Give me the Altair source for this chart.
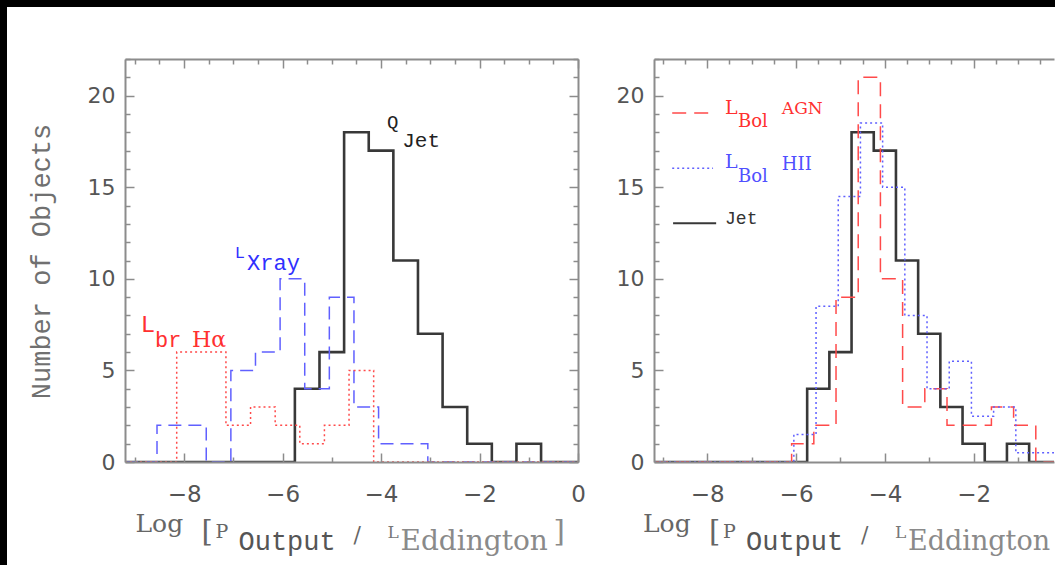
import altair as alt
import pandas as pd

# ---------------- data ----------------
BIN_WIDTH = 0.5

# left panel: jet power, X-ray and broad H-alpha outputs (bin left edges, counts)
jet_starts = [-5.75, -5.25, -4.75, -4.25, -3.75, -3.25, -2.75, -2.25, -1.75, -1.25]
jet_counts = [4, 6, 18, 17, 11, 7, 3, 1, 0, 1]

xray_starts = [-8.55, -8.05, -7.55, -7.05, -6.55, -6.05, -5.55, -5.05, -4.55, -4.05, -3.55]
xray_counts = [2, 2, 0, 5, 6, 10, 4, 9, 3, 1, 1]

halpha_starts = [-8.15, -7.65, -7.15, -6.65, -6.15, -5.65, -5.15, -4.65]
halpha_counts = [6, 6, 2, 3, 2, 1, 2, 5]

# right panel: bolometric AGN, bolometric HII (and the same jet histogram)
agn_starts = [-6.1, -5.6, -5.1, -4.6, -4.1, -3.6, -3.1, -2.6, -2.1, -1.6, -1.1]
agn_counts = [1, 2, 9, 21, 10, 3, 4, 2, 2, 3, 2]

hii_starts = [-6.05, -5.55, -5.05, -4.55, -4.05, -3.55, -3.05, -2.55, -2.05, -1.55, -1.05, -0.55]
hii_counts = [1.5, 8.5, 14.5, 18.5, 15, 8, 4, 5.5, 2.5, 3, 0.5, 0.5]

X_TICKS_LEFT = [-9.0, -8.5, -8.0, -7.5, -7.0, -6.5, -6.0, -5.5, -5.0, -4.5,
                -4.0, -3.5, -3.0, -2.5, -2.0, -1.5, -1.0, -0.5, 0.0]
X_TICKS_RIGHT = [-9.0, -8.5, -8.0, -7.5, -7.0, -6.5, -6.0, -5.5, -5.0, -4.5,
                 -4.0, -3.5, -3.0, -2.5, -2.0, -1.5, -1.0, -0.5]
Y_TICKS = [0, 1, 2, 3, 4, 5, 6, 7, 8, 9, 10, 11, 12, 13, 14, 15, 16, 17, 18, 19, 20, 21, 22]

X_LO, X_HI = -9.2, 0.0
X_HI_RIGHT = -0.19          # right panel is cut by the picture edge
Y_DOMAIN = [0, 22]

# ---------------- styling ----------------
SERIF = "DejaVu Serif"
MONO = "Liberation Mono"
SANS = "DejaVu Sans"
AX = "#8c8c8c"
LAB = "#555555"
RED = "#ff4a4a"
BLUE = "#6060ff"
JET = "#383838"

LEFT_W, RIGHT_W, H = 453, 400, 403
RIGHT_NOMINAL_W = 410

ONE = pd.DataFrame({"k": [0]})


def step_frame(starts, counts, hi):
    xs = [X_LO] + list(starts)
    ys = [0] + list(counts)
    end = starts[-1] + BIN_WIDTH
    if end < hi:
        xs += [end, hi]
        ys += [0, 0]
    else:
        xs.append(hi)
        ys.append(counts[-1])
    return pd.DataFrame({"x": xs, "y": ys, "i": list(range(len(xs)))})


def tick_size(test):
    return {"condition": {"test": test, "value": -9}, "value": -5}


MAJOR_X = "abs(datum.value % 2) < 0.001"
MAJOR_Y = "datum.value % 5 == 0"

COMMON = dict(tickColor=AX, tickWidth=1.5, domainColor=AX, domainWidth=2,
              grid=False, zindex=1)


def bottom_axis(ticks):
    return alt.Axis(orient="bottom", values=ticks, tickSize=tick_size(MAJOR_X),
                    format="d",
                    labelExpr=MAJOR_X + " ? datum.label : ''", labelPadding=30,
                    labelFont=SANS, labelFontSize=23, labelColor=LAB,
                    labelFlush=False, labelOverlap=False, title=None, **COMMON)


def top_axis(ticks):
    return alt.Axis(orient="top", values=ticks, tickSize=tick_size(MAJOR_X),
                    labels=False, title=None, **COMMON)


def left_axis(title):
    kw = dict(orient="left", values=Y_TICKS, tickSize=tick_size(MAJOR_Y),
              labelExpr=MAJOR_Y + " && datum.value <= 20 ? datum.label : ''",
              labelPadding=19, labelFont=SANS, labelFontSize=22, labelColor=LAB,
              labelOverlap=False, **COMMON)
    if title:
        kw.update(title=title, titleFont=MONO, titleFontSize=27, titleColor="#707070",
                  titleFontWeight="normal", titleX=-70, titleY=202)
    else:
        kw.update(title=None)
    return alt.Axis(**kw)


def right_axis():
    return alt.Axis(orient="right", values=Y_TICKS, tickSize=tick_size(MAJOR_Y),
                    labels=False, title=None, **COMMON)


def hist_line(starts, counts, hi, color, width, xscale, dash=None, xaxis=None, yaxis=None):
    props = dict(interpolate="step-after", color=color, strokeWidth=width, clip=True)
    if dash:
        props["strokeDash"] = dash
    return alt.Chart(step_frame(starts, counts, hi)).mark_line(**props).encode(
        x=alt.X("x:Q", scale=xscale, axis=xaxis),
        y=alt.Y("y:Q", scale=alt.Scale(domain=Y_DOMAIN, nice=False), axis=yaxis),
        order="i:Q",
    )


def note(text, x, y, color, font, size, xscale, weight="normal"):
    return alt.Chart(ONE).mark_text(text=text, align="left", baseline="alphabetic",
                                    color=color, font=font, fontSize=size,
                                    fontWeight=weight).encode(
        x=alt.XDatum(x, axis=None, scale=xscale),
        y=alt.YDatum(y, axis=None, scale=alt.Scale(domain=Y_DOMAIN, nice=False)),
    )


def sample(x1, x2, y, color, width, xscale, dash=None):
    props = dict(color=color, strokeWidth=width)
    if dash:
        props["strokeDash"] = dash
    return alt.Chart(ONE).mark_rule(**props).encode(
        x=alt.XDatum(x1, axis=None, scale=xscale),
        x2=alt.X2Datum(x2),
        y=alt.YDatum(y, axis=None, scale=alt.Scale(domain=Y_DOMAIN, nice=False)),
    )


def xtitle(center, with_close=True, edd_size=28):
    start = center - 216
    pieces = [
        ("Log", 0, 473, SERIF, 25, "#666666"),
        ("[", 66, 482, SERIF, 29, "#666666"),
        ("P", 80, 479, SERIF, 19, "#666666"),
        ("Output", 103, 491, MONO, 27, "#555555"),
        ("/", 218, 483, SERIF, 22, "#666666"),
        ("L", 252, 479, SERIF, 17, "#777777"),
        ("Eddington", 265, 491, SERIF, edd_size, "#8a8a8a"),
    ]
    if with_close:
        pieces.append(("]", 418, 482, SERIF, 29, "#8a8a8a"))
    out = []
    for t, dx, y, f, s, c in pieces:
        out.append(alt.Chart(ONE).mark_text(text=t, align="left", baseline="alphabetic",
                                            font=f, fontSize=s, color=c).encode(
            x=alt.value(start + dx), y=alt.value(y)))
    return out


# ---------------- left panel ----------------
xs_left = alt.Scale(domain=[X_LO, X_HI], nice=False, zero=False)
backdrop = alt.Chart(ONE).mark_rect(color="white").encode(
    x=alt.value(-118), x2=alt.value(930), y=alt.value(-52), y2=alt.value(506))

left_layers = [
    backdrop,
    hist_line(jet_starts, jet_counts, X_HI, JET, 2.6, xs_left,
              xaxis=bottom_axis(X_TICKS_LEFT), yaxis=left_axis("Number of Objects")),
    hist_line(xray_starts, xray_counts, X_HI, BLUE, 1.5, xs_left, dash=[13, 7],
              xaxis=top_axis(X_TICKS_LEFT), yaxis=right_axis()),
    hist_line(halpha_starts, halpha_counts, X_HI, RED, 1.5, xs_left, dash=[2, 3]),
    note("Q", -3.88, 18.23, "#222222", MONO, 19, xs_left),
    note("Jet", -3.57, 17.19, "#222222", MONO, 21, xs_left),
    note("L", -6.97, 11.14, "#3030ff", MONO, 17, xs_left),
    note("Xray", -6.72, 10.48, "#3030ff", MONO, 22, xs_left),
    note("L", -8.88, 7.10, "#ff3030", MONO, 24, xs_left),
    note("br", -8.59, 6.28, "#ff3030", MONO, 22, xs_left),
    note("Hα", -7.84, 6.28, "#ff3030", SERIF, 22, xs_left),
] + xtitle(LEFT_W / 2)

left = alt.layer(*left_layers).resolve_axis(x="independent", y="independent").properties(
    width=LEFT_W, height=H)

# ---------------- right panel ----------------
xs_right = alt.Scale(domain=[X_LO, X_HI_RIGHT], nice=False, zero=False)
right_layers = [
    hist_line(jet_starts, jet_counts, X_HI_RIGHT, JET, 2.6, xs_right,
              xaxis=bottom_axis(X_TICKS_RIGHT), yaxis=left_axis(None)),
    hist_line(agn_starts, agn_counts, X_HI_RIGHT, RED, 1.5, xs_right, dash=[14, 8],
              xaxis=top_axis(X_TICKS_RIGHT)),
    hist_line(hii_starts, hii_counts, X_HI_RIGHT, BLUE, 1.5, xs_right, dash=[2, 3]),
    sample(-8.79, -7.87, 19.05, RED, 1.5, xs_right, dash=[14, 8]),
    sample(-8.79, -7.87, 16.03, BLUE, 1.5, xs_right, dash=[2, 3]),
    sample(-8.77, -7.80, 13.04, JET, 2, xs_right),
    note("L", -7.60, 18.98, "#ff3030", SERIF, 19, xs_right),
    note("Bol", -7.31, 18.27, "#ff3030", SERIF, 18, xs_right),
    note("AGN", -6.32, 18.98, "#ff3030", SERIF, 17, xs_right),
    note("L", -7.60, 16.03, "#5050ff", SERIF, 19, xs_right),
    note("Bol", -7.31, 15.27, "#5050ff", SERIF, 18, xs_right),
    note("HII", -6.32, 15.92, "#5050ff", SERIF, 18, xs_right),
    note("Jet", -7.60, 12.98, "#333333", MONO, 18, xs_right),
] + xtitle(RIGHT_NOMINAL_W / 2, with_close=False, edd_size=27)

right = alt.layer(*right_layers).resolve_axis(x="independent", y="independent").properties(
    width=RIGHT_W, height=H)

chart = alt.hconcat(left, right, spacing=76, bounds="flush").properties(
    background="black",
    padding={"left": 7, "top": 7, "right": 0, "bottom": 0},
).configure_view(strokeWidth=0)

chart.save("out.html", embed_options={"renderer": "svg", "actions": False})
